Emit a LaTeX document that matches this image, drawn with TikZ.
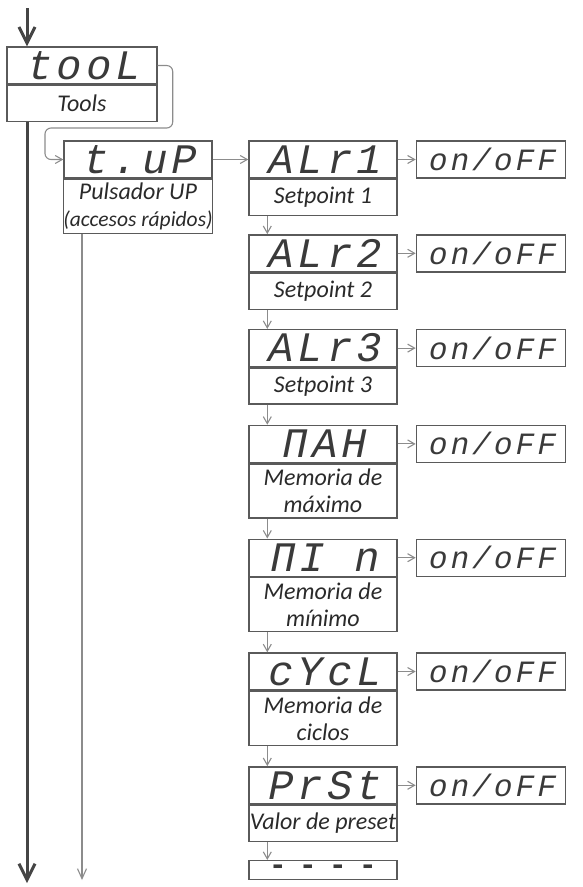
\documentclass[tikz,border=0pt]{standalone}
\usepackage{fontspec}
\usepackage{tikz}
\usetikzlibrary{positioning, arrows.meta}
\newfontfamily\segfont[FakeSlant=0.2, LetterSpace=10]{Liberation Mono}
\newfontfamily\dashfont[LetterSpace=40]{Liberation Mono}
\newfontfamily\lblfont{Carlito}
\definecolor{boxc}{HTML}{5A5A5A}
\definecolor{segc}{HTML}{3A3A3A}
\definecolor{lblc}{HTML}{2A2A2A}
\definecolor{linkc}{HTML}{8C8C8C}
\definecolor{trunkc}{HTML}{454545}

\begin{document}
\begin{tikzpicture}[x=1pt, y=1pt,
  disp/.style={draw=boxc, line width=1.4pt, minimum width=148pt, minimum height=37pt, inner sep=0pt, text=segc, font=\segfont\fontsize{42}{42}\selectfont},
  lbl/.style={draw=boxc, line width=1.4pt, minimum width=148pt, minimum height=36pt, inner sep=0pt, text=lblc, align=center, font=\lblfont\itshape\fontsize{24}{27}\selectfont},
  tall/.style={minimum height=54pt},
  onoff/.style={disp, minimum width=149pt, font=\segfont\fontsize{31}{31}\selectfont},
  link/.style={draw=linkc, line width=1.1pt, -{Straight Barb[length=7pt, width=8pt]}},
  trunk/.style={draw=trunkc, line width=3pt, -{Straight Barb[length=16pt, width=16pt]}}]
\useasboundingbox (0,0) rectangle (582,-887);

\node[disp, minimum width=150pt] (tool) at (82,-65.5) {tooL};
\node[lbl, minimum width=150pt, below=0pt of tool] (tooll) {Tools};
\node[disp] (tup) at (138,-159.5) {t.uP};
\node[lbl, tall, below=0pt of tup] (tupl) {Pulsador UP\\{\fontsize{21.5}{27}\selectfont(accesos rápidos)}};

\node[disp] (alr1) at (323,-159.5) {ALr1};
\node[lbl, below=0pt of alr1] (alr1l) {Setpoint 1};
\node[disp, below=18pt of alr1l] (alr2) {ALr2};
\node[lbl, below=0pt of alr2] (alr2l) {Setpoint 2};
\node[disp, below=19pt of alr2l] (alr3) {ALr3};
\node[lbl, below=0pt of alr3] (alr3l) {Setpoint 3};
\node[disp, below=20pt of alr3l] (max) {ΠAH};
\node[lbl, tall, below=0pt of max] (maxl) {Memoria de\\máximo};
\node[disp, below=20pt of maxl] (min) {ΠI n};
\node[lbl, tall, below=0pt of min] (minl) {Memoria de\\mínimo};
\node[disp, below=20pt of minl] (cyc) {cYcL};
\node[lbl, tall, below=0pt of cyc] (cycl) {Memoria de\\ciclos};
\node[disp, below=20pt of cycl] (prst) {PrSt};
\node[lbl, below=0pt of prst] (prstl) {Valor de preset};
\node[disp, minimum height=19pt, font=\dashfont\bfseries\fontsize{30}{30}\selectfont, below=18pt of prstl] (last) {----};

\node[onoff, right=18pt of alr1] (on1) {on/oFF};
\node[onoff, right=18pt of alr2] (on2) {on/oFF};
\node[onoff, right=18pt of alr3] (on3) {on/oFF};
\node[onoff, right=18pt of max] (on4) {on/oFF};
\node[onoff, right=18pt of min] (on5) {on/oFF};
\node[onoff, right=18pt of cyc] (on6) {on/oFF};
\node[onoff, right=18pt of prst] (on7) {on/oFF};

\coordinate (top) at (27,-8);
\coordinate (bottom) at (27,-883);
\coordinate (turn) at (45,-128);
\coordinate (tupend) at (82,-880);

\draw[trunk] (top) -- (top |- tool.north);
\draw[trunk] (tooll.south -| bottom) -- (bottom);
\draw[link, rounded corners=6pt] (tool.east) -- ++(15,0) |- (turn) |- (tup.west);
\draw[link, -{Straight Barb[length=10pt, width=9pt]}] (tupl.south -| tupend) -- (tupend);
\draw[link] (tup) -- (alr1);

\draw[link] ([xshift=19pt]alr1l.south west) -- ([xshift=19pt]alr2.north west);
\draw[link] ([xshift=19pt]alr2l.south west) -- ([xshift=19pt]alr3.north west);
\draw[link] ([xshift=19pt]alr3l.south west) -- ([xshift=19pt]max.north west);
\draw[link] ([xshift=19pt]maxl.south west) -- ([xshift=19pt]min.north west);
\draw[link] ([xshift=19pt]minl.south west) -- ([xshift=19pt]cyc.north west);
\draw[link] ([xshift=19pt]cycl.south west) -- ([xshift=19pt]prst.north west);
\draw[link] ([xshift=19pt]prstl.south west) -- ([xshift=19pt]last.north west);

\draw[link] (alr1) -- (on1);
\draw[link] (alr2) -- (on2);
\draw[link] (alr3) -- (on3);
\draw[link] (max) -- (on4);
\draw[link] (min) -- (on5);
\draw[link] (cyc) -- (on6);
\draw[link] (prst) -- (on7);
\end{tikzpicture}
\end{document}
